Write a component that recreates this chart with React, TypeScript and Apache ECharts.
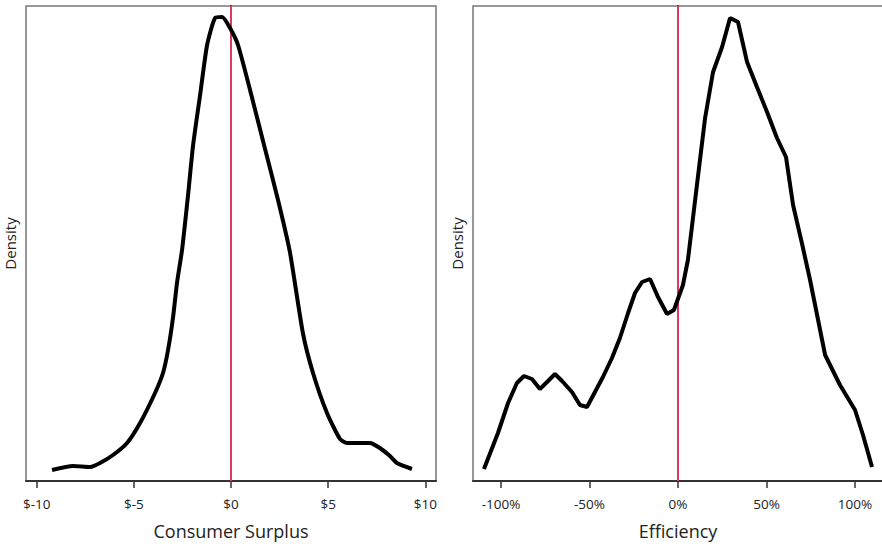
import React, { useEffect, useRef } from "react";
import * as echarts from "echarts";

const csX = [-9.21, -8.13, -7.25, -6.74, -6.07, -5.35, -4.68, -3.91, -3.5, -3.24, -2.98, -2.78, -2.52, -2.21, -1.95, -1.59, -1.23, -0.82, -0.46, -0.05, 0.36, 0.98, 1.7, 2.42, 3.03, 3.7, 4.22, 4.94, 5.61, 5.97, 6.64, 7.15, 7.66, 8.18, 8.54, 9.31];
const csDensity = [0.011, 0.015, 0.014, 0.018, 0.026, 0.038, 0.058, 0.088, 0.108, 0.131, 0.164, 0.198, 0.231, 0.286, 0.336, 0.386, 0.436, 0.463, 0.464, 0.453, 0.436, 0.391, 0.336, 0.281, 0.229, 0.148, 0.108, 0.068, 0.042, 0.038, 0.038, 0.038, 0.033, 0.025, 0.018, 0.012];

const effX = [-109.6, -101.7, -96.0, -91.0, -87.0, -82.5, -78.0, -73.4, -69.5, -65.5, -59.9, -55.4, -51.4, -46.9, -42.4, -37.3, -32.8, -28.2, -24.3, -20.3, -15.8, -11.3, -6.2, -2.3, 2.8, 5.6, 10.7, 15.3, 19.8, 24.9, 29.4, 33.9, 39.0, 44.6, 50.3, 55.9, 61.0, 65.0, 70.1, 74.6, 83.1, 91.5, 100.0, 104.5, 109.6];
const effDensity = [0.012, 0.048, 0.078, 0.098, 0.105, 0.102, 0.092, 0.1, 0.107, 0.1, 0.089, 0.076, 0.074, 0.089, 0.104, 0.123, 0.143, 0.168, 0.188, 0.199, 0.202, 0.184, 0.167, 0.171, 0.196, 0.221, 0.296, 0.363, 0.409, 0.434, 0.463, 0.459, 0.419, 0.394, 0.369, 0.343, 0.324, 0.276, 0.237, 0.201, 0.126, 0.096, 0.071, 0.046, 0.014];

const csTicks = [-10, -5, 0, 5, 10];
const effTicks = [-100, -50, 0, 50, 100];
const zeroLineX = 0;
const densityMax = 0.475;

const FONT = "Open Sans";

export default function App() {
  const ref = useRef<HTMLDivElement>(null);
  useEffect(() => {
    if (!ref.current) return;
    const chart = echarts.init(ref.current, null, { renderer: "svg" });
    const xAxisBase = (idx: number, min: number, max: number, ticks: number[], fmt: (v: number) => string, name: string) => ({
      type: "value",
      gridIndex: idx,
      min,
      max,
      name,
      nameLocation: "middle",
      nameGap: 41,
      nameTextStyle: { fontFamily: FONT, fontSize: 18, color: "#222" },
      splitLine: { show: false },
      axisLine: { show: true, onZero: false, lineStyle: { color: "#333", width: 2 } },
      axisTick: { show: true, length: 7, customValues: ticks, lineStyle: { color: "#333", width: 1.5 } },
      axisLabel: { customValues: ticks, formatter: fmt, fontFamily: FONT, fontSize: 13.5, color: "#222", margin: 16 },
    });
    const yAxisBase = (idx: number, gap: number) => ({
      type: "value",
      gridIndex: idx,
      min: 0,
      max: densityMax,
      name: "Density",
      nameLocation: "middle",
      nameGap: gap,
      nameTextStyle: { fontFamily: FONT, fontSize: 15, color: "#222" },
      splitLine: { show: false },
      axisLine: { show: true, lineStyle: { color: "#333", width: 2 } },
      axisTick: { show: false },
      axisLabel: { show: false },
    });
    const zeroSeries = (idx: number) => ({
      type: "line",
      xAxisIndex: idx,
      yAxisIndex: idx,
      data: [[zeroLineX, 0], [zeroLineX, densityMax]],
      showSymbol: false,
      silent: true,
      z: 1,
      lineStyle: { color: "#d83a60", width: 2 },
    });
    chart.setOption({
      animation: false,
      grid: [
        { left: 26, top: 6, width: 410, height: 475, show: true, borderColor: "#777", borderWidth: 1.5 },
        { left: 473, top: 6, width: 410, height: 475, show: true, borderColor: "#777", borderWidth: 1.5 },
      ],
      xAxis: [
        xAxisBase(0, -10.55, 10.55, csTicks, (v: number) => "$" + v, "Consumer Surplus"),
        xAxisBase(1, -115.8, 115.8, effTicks, (v: number) => v + "%", "Efficiency"),
      ],
      yAxis: [yAxisBase(0, 9), yAxisBase(1, 9)],
      series: [
        zeroSeries(0),
        zeroSeries(1),
        {
          type: "line",
          xAxisIndex: 0,
          yAxisIndex: 0,
          data: csX.map((x, i) => [x, csDensity[i]]),
          showSymbol: false,
          smooth: 0.2,
          z: 2,
          lineStyle: { color: "#000", width: 4 },
        },
        {
          type: "line",
          xAxisIndex: 1,
          yAxisIndex: 1,
          data: effX.map((x, i) => [x, effDensity[i]]),
          showSymbol: false,
          smooth: false,
          z: 2,
          lineStyle: { color: "#000", width: 4 },
        },
      ],
    });
    return () => chart.dispose();
  }, []);
  return <div ref={ref} style={{ position: "fixed", left: 0, top: 0, width: 890, height: 547, background: "#fff" }} />;
}
